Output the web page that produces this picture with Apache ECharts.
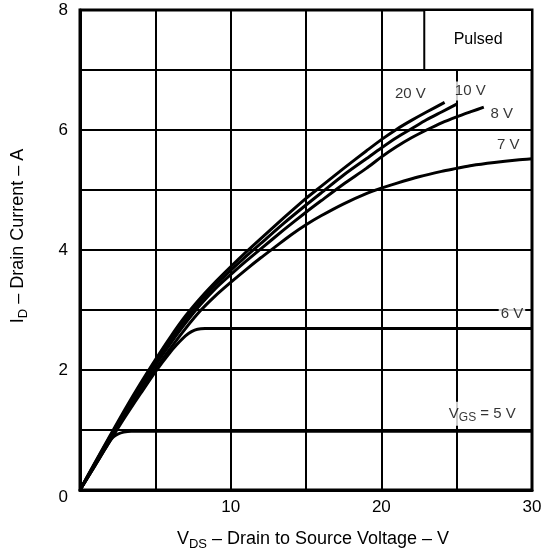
<!DOCTYPE html>
<html>
<head>
<meta charset="utf-8">
<title>Drain current vs drain-source voltage</title>
<script src="https://cdn.jsdelivr.net/npm/echarts@6/dist/echarts.min.js"></script>
<style>
  html, body { margin: 0; padding: 0; background: #fff; }
  #main { width: 551px; height: 560px; }
</style>
</head>
<body>
<div id="main"></div>
<script>
// output characteristics, one curve per gate voltage (VDS in V, ID in A)
var vds20 = [0, 1, 2, 3, 4, 5, 6, 7, 8, 9, 10, 11, 12, 13.5, 15, 16, 17.5, 19, 20, 21, 22, 23, 24.2];
var id20  = [0, 0.46, 0.91, 1.35, 1.77, 2.17, 2.55, 2.9, 3.2, 3.47, 3.72, 3.96, 4.19, 4.53, 4.86, 5.06, 5.36, 5.65, 5.84, 6.01, 6.16, 6.3, 6.46];

var vds10 = [0, 1, 2, 3, 4, 5, 6, 7, 8, 9, 10, 11, 12, 13.5, 15, 16, 17.5, 19, 20, 21, 22, 23, 24, 25];
var id10  = [0, 0.45, 0.89, 1.32, 1.73, 2.12, 2.49, 2.84, 3.15, 3.42, 3.66, 3.89, 4.11, 4.44, 4.75, 4.95, 5.25, 5.52, 5.7, 5.87, 6.02, 6.17, 6.3, 6.43];

var vds8 = [0, 1, 2, 3, 4, 5, 6, 7, 8, 9, 10, 11, 12, 13.5, 15, 16, 17.5, 19, 20, 21, 22, 23, 24, 25, 26, 26.8];
var id8  = [0, 0.44, 0.87, 1.29, 1.7, 2.08, 2.44, 2.78, 3.09, 3.36, 3.59, 3.81, 4.02, 4.33, 4.63, 4.82, 5.1, 5.36, 5.55, 5.72, 5.87, 6.0, 6.12, 6.22, 6.31, 6.38];

var vds7 = [0, 1, 2, 3, 4, 5, 6, 7, 8, 9, 10, 11, 12, 13, 14, 15, 16, 17.5, 19, 20, 21, 22.5, 24, 25, 26, 27.5, 29, 30];
var id7  = [0, 0.42, 0.84, 1.25, 1.64, 2.01, 2.36, 2.69, 2.99, 3.24, 3.46, 3.67, 3.87, 4.06, 4.25, 4.42, 4.57, 4.77, 4.94, 5.03, 5.11, 5.22, 5.31, 5.36, 5.41, 5.46, 5.5, 5.52];

var vds6 = [0, 1, 2, 3, 4, 5, 6, 6.6, 7, 7.4, 7.8, 8.3, 10, 15, 20, 25, 30];
var id6  = [0, 0.41, 0.82, 1.22, 1.6, 1.97, 2.3, 2.47, 2.57, 2.64, 2.68, 2.69, 2.69, 2.69, 2.69, 2.69, 2.69];

var vds5 = [0, 1, 2, 2.2, 2.5, 2.9, 3.4, 4, 10, 15, 20, 25, 30];
var id5  = [0, 0.41, 0.82, 0.88, 0.93, 0.965, 0.98, 0.98, 0.98, 0.98, 0.98, 0.98, 0.98];

// curve annotations (anchored in data units)
var labelText = ['20 V', '10 V', '8 V', '7 V', '6 V', 'VGS = 5 V'];
var labelVds  = [21.93, 25.9, 28.0, 28.43, 28.67, 26.7];
var labelId   = [6.6, 6.65, 6.27, 5.75, 2.94, 1.27];

var pulsedBox = [[22.85, 7], [30, 8]];

var xTicks = [0, 10, 20, 30];
var yTicks = [0, 2, 4, 6, 8];

var FONT = '"Liberation Sans", Arial, sans-serif';

function pairs(xs, ys) {
    return xs.map(function (x, i) { return [x, ys[i]]; });
}

function curve(name, xs, ys) {
    return {
        name: name,
        type: 'line',
        data: pairs(xs, ys),
        showSymbol: false,
        symbol: 'none',
        smooth: 0.25,
        lineStyle: { color: '#000', width: 3 },
        z: 3
    };
}

var dom = document.getElementById('main');
var myChart = echarts.init(dom);

var option = {
    animation: false,
    backgroundColor: '#fff',
    textStyle: { fontFamily: FONT, color: '#000' },
    grid: {
        left: 80, right: 19, top: 10, bottom: 70,
        show: true, borderColor: '#000', borderWidth: 3
    },
    xAxis: {
        type: 'value', min: 0, max: 30, interval: 5,
        name: '{m|V}{s|DS}{m| – Drain to Source Voltage – V}',
        nameLocation: 'middle', nameGap: 38,
        nameTextStyle: {
            padding: [0, 0, 0, 14],
            rich: {
                m: { fontSize: 18, fontFamily: FONT, color: '#000' },
                s: { fontSize: 13, fontFamily: FONT, color: '#000', padding: [10, 0, 0, 0] }
            }
        },
        axisLine: { lineStyle: { color: '#000', width: 3 } },
        axisTick: { show: false },
        axisLabel: {
            margin: 9, fontSize: 17, color: '#000', fontFamily: FONT,
            formatter: function (v) { return (v !== 0 && xTicks.indexOf(v) >= 0) ? String(v) : ''; }
        },
        splitLine: { lineStyle: { color: '#000', width: 2 } }
    },
    yAxis: {
        type: 'value', min: 0, max: 8, interval: 1,
        name: '{m|I}{s|D}{m| – Drain Current – A}',
        nameLocation: 'middle', nameGap: 50, nameRotate: 90,
        nameTextStyle: {
            padding: [0, 0, 0, 28],
            rich: {
                m: { fontSize: 18, fontFamily: FONT, color: '#000' },
                s: { fontSize: 13, fontFamily: FONT, color: '#000', padding: [10, 0, 0, 0] }
            }
        },
        axisLine: { lineStyle: { color: '#000', width: 3 } },
        axisTick: { show: false },
        axisLabel: {
            margin: 12, fontSize: 17, color: '#000', fontFamily: FONT,
            formatter: function (v) {
                if (v === 0) return '{z|0}';
                return yTicks.indexOf(v) >= 0 ? String(v) : '';
            },
            rich: { z: { fontSize: 17, fontFamily: FONT, color: '#000', padding: [14, 0, 0, 0] } }
        },
        splitLine: { lineStyle: { color: '#000', width: 2 } }
    },
    series: [
        curve('20 V', vds20, id20),
        curve('10 V', vds10, id10),
        curve('8 V', vds8, id8),
        curve('7 V', vds7, id7),
        curve('6 V', vds6, id6),
        curve('5 V', vds5, id5),
        {
            name: 'labels',
            type: 'scatter',
            symbolSize: 0,
            z: 4,
            data: labelText.map(function (t, i) {
                return { name: t, value: [labelVds[i], labelId[i]] };
            }),
            label: {
                show: true, position: 'inside',
                backgroundColor: '#fff', padding: [2, 2],
                color: '#000', fontSize: 15, fontFamily: FONT,
                formatter: function (p) {
                    if (p.name.indexOf('VGS') === 0) {
                        return '{m|V}{s|GS}{m|' + p.name.slice(3) + '}';
                    }
                    return p.name;
                },
                rich: {
                    m: { fontSize: 15, fontFamily: FONT, color: '#000' },
                    s: { fontSize: 12, fontFamily: FONT, color: '#000', padding: [8, 0, 0, 0] }
                }
            },
            markArea: {
                silent: true,
                itemStyle: { color: '#fff', borderColor: '#000', borderWidth: 2 },
                label: { show: true, position: 'inside', color: '#000', fontSize: 16, fontFamily: FONT },
                data: [[
                    { name: 'Pulsed', coord: pulsedBox[0] },
                    { coord: pulsedBox[1] }
                ]]
            }
        }
    ]
};

if (option && typeof option === "object") {
    myChart.setOption(option, true);
}
</script>
</body>
</html>
